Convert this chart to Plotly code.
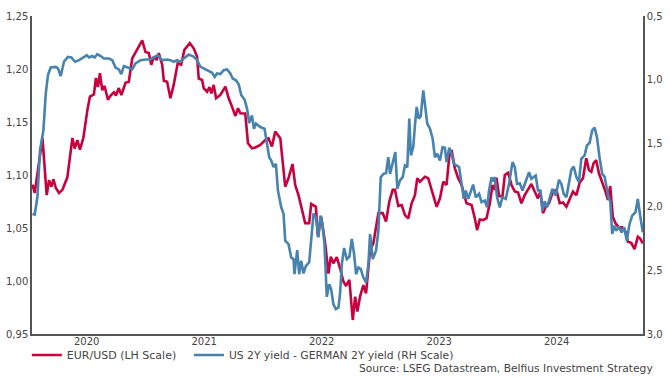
import plotly.graph_objects as go

# decimal-year dates and values
eur_t = [2020.039, 2020.058, 2020.124, 2020.160, 2020.180, 2020.200, 2020.217, 2020.237, 2020.265, 2020.294,
         2020.336, 2020.379, 2020.398, 2020.421, 2020.443, 2020.472, 2020.506, 2020.528, 2020.562, 2020.579,
         2020.596, 2020.613, 2020.633, 2020.653, 2020.681, 2020.704, 2020.732, 2020.749, 2020.774, 2020.795,
         2020.831, 2020.859, 2020.888, 2020.931, 2020.973, 2021.001, 2021.029, 2021.050, 2021.072, 2021.095,
         2021.114, 2021.143, 2021.157, 2021.185, 2021.213, 2021.241, 2021.275, 2021.304, 2021.332, 2021.378,
         2021.411, 2021.440, 2021.454, 2021.483, 2021.496, 2021.525, 2021.545, 2021.562, 2021.581, 2021.602,
         2021.638, 2021.681, 2021.709, 2021.737, 2021.766, 2021.788, 2021.808, 2021.850, 2021.873, 2021.907,
         2021.935, 2021.978, 2022.020, 2022.048, 2022.077, 2022.105, 2022.148, 2022.190, 2022.218, 2022.252,
         2022.275, 2022.303, 2022.332, 2022.360, 2022.394, 2022.411, 2022.451, 2022.468, 2022.496, 2022.530,
         2022.558, 2022.578, 2022.600, 2022.629, 2022.657, 2022.685, 2022.708, 2022.736, 2022.765, 2022.785,
         2022.804, 2022.827, 2022.855, 2022.878, 2022.912, 2022.940, 2022.983, 2023.020, 2023.048, 2023.076,
         2023.105, 2023.124, 2023.152, 2023.181, 2023.209, 2023.237, 2023.266, 2023.294, 2023.314, 2023.337,
         2023.379, 2023.407, 2023.436, 2023.479, 2023.507, 2023.535, 2023.563, 2023.586, 2023.606, 2023.634,
         2023.662, 2023.691, 2023.733, 2023.776, 2023.804, 2023.823, 2023.846, 2023.874, 2023.903, 2023.931,
         2023.954, 2023.974, 2023.988, 2024.010, 2024.039, 2024.059, 2024.087, 2024.116, 2024.144, 2024.172,
         2024.200, 2024.228, 2024.257, 2024.285, 2024.313, 2024.341, 2024.362, 2024.384, 2024.407, 2024.435,
         2024.469, 2024.498, 2024.526, 2024.554, 2024.583, 2024.611, 2024.639, 2024.668, 2024.696, 2024.724,
         2024.752, 2024.775, 2024.795, 2024.814, 2024.837, 2024.860, 2024.888, 2024.916, 2024.936, 2024.956,
         2024.978, 2025.001, 2025.029, 2025.058, 2025.086, 2025.106, 2025.135, 2025.163, 2025.191, 2025.211,
         2025.233]
eur_usd = [1.091, 1.083, 1.135, 1.081, 1.095, 1.089, 1.096, 1.088, 1.083, 1.086,
           1.098, 1.135, 1.125, 1.133, 1.124, 1.135, 1.161, 1.174, 1.176, 1.1915,
           1.183, 1.196, 1.180, 1.184, 1.171, 1.175, 1.178, 1.175, 1.182, 1.1755,
           1.187, 1.188, 1.210, 1.218, 1.227, 1.216, 1.215, 1.204, 1.2116, 1.2085,
           1.215, 1.204, 1.189, 1.188, 1.1724, 1.185, 1.2054, 1.204, 1.218, 1.2245,
           1.2195, 1.2116, 1.191, 1.1896, 1.182, 1.1786, 1.183, 1.177, 1.185, 1.1724,
           1.1755, 1.1834, 1.1724, 1.1645, 1.1557, 1.163, 1.1582, 1.158, 1.130, 1.1252,
           1.126, 1.1283, 1.133, 1.1347, 1.1268, 1.1409, 1.1347, 1.089, 1.097, 1.1104,
           1.0906, 1.081, 1.067, 1.0545, 1.0545, 1.0727, 1.070, 1.0418, 1.0607, 1.0356,
           1.007, 1.023, 1.0167, 1.0225, 1.012, 0.9995, 0.9953, 1.001, 0.9632, 0.9853,
           0.9711, 0.9853, 0.9962, 0.9884, 1.0292, 1.0356, 1.064, 1.064, 1.056, 1.075,
           1.086, 1.086, 1.0708, 1.0717, 1.0622, 1.059, 1.0733, 1.081, 1.097, 1.0937,
           1.0984, 1.097, 1.086, 1.070, 1.078, 1.0937, 1.0906, 1.1173, 1.1236, 1.1063,
           1.097, 1.0906, 1.0733, 1.0717, 1.059, 1.048, 1.058, 1.0575, 1.059, 1.073,
           1.0906, 1.086, 1.0975, 1.080, 1.080, 1.100, 1.102, 1.0906, 1.0844, 1.0834,
           1.0733, 1.081, 1.0865, 1.0915, 1.0844, 1.078, 1.0844, 1.064, 1.070, 1.0733,
           1.0844, 1.086, 1.0733, 1.074, 1.070, 1.0764, 1.0844, 1.081, 1.0927, 1.097,
           1.1158, 1.1047, 1.103, 1.111, 1.114, 1.1016, 1.0937, 1.0844, 1.0764, 1.0896,
           1.0607, 1.0545, 1.0506, 1.0506, 1.0466, 1.037, 1.036, 1.030, 1.0418, 1.040,
           1.0356]

spread_t = [2020.039, 2020.058, 2020.081, 2020.103, 2020.132, 2020.152, 2020.171, 2020.194, 2020.237, 2020.256,
            2020.279, 2020.307, 2020.341, 2020.370, 2020.401, 2020.435, 2020.472, 2020.500, 2020.520, 2020.548,
            2020.568, 2020.591, 2020.619, 2020.647, 2020.689, 2020.718, 2020.746, 2020.774, 2020.795, 2020.817,
            2020.851, 2020.888, 2020.916, 2020.959, 2021.001, 2021.044, 2021.078, 2021.106, 2021.134, 2021.157,
            2021.185, 2021.213, 2021.241, 2021.270, 2021.298, 2021.326, 2021.369, 2021.403, 2021.440, 2021.468,
            2021.496, 2021.525, 2021.545, 2021.568, 2021.590, 2021.610, 2021.638, 2021.666, 2021.695, 2021.723,
            2021.743, 2021.771, 2021.794, 2021.816, 2021.844, 2021.865, 2021.884, 2021.907, 2021.924, 2021.941,
            2021.978, 2022.014, 2022.035, 2022.054, 2022.071, 2022.091, 2022.111, 2022.128, 2022.156, 2022.176,
            2022.190, 2022.218, 2022.241, 2022.261, 2022.269, 2022.292, 2022.309, 2022.326, 2022.346, 2022.366,
            2022.394, 2022.411, 2022.431, 2022.451, 2022.473, 2022.490, 2022.507, 2022.524, 2022.544, 2022.564,
            2022.581, 2022.600, 2022.621, 2022.643, 2022.657, 2022.672, 2022.691, 2022.714, 2022.736, 2022.757,
            2022.776, 2022.793, 2022.813, 2022.833, 2022.855, 2022.878, 2022.898, 2022.912, 2022.935, 2022.963,
            2022.983, 2023.003, 2023.025, 2023.048, 2023.067, 2023.082, 2023.105, 2023.127, 2023.144, 2023.167,
            2023.190, 2023.209, 2023.229, 2023.246, 2023.260, 2023.280, 2023.294, 2023.309, 2023.326, 2023.343,
            2023.365, 2023.382, 2023.399, 2023.422, 2023.445, 2023.464, 2023.484, 2023.507, 2023.529, 2023.549,
            2023.563, 2023.586, 2023.606, 2023.625, 2023.648, 2023.670, 2023.691, 2023.710, 2023.727, 2023.747,
            2023.767, 2023.789, 2023.812, 2023.840, 2023.861, 2023.889, 2023.908, 2023.925, 2023.946, 2023.954,
            2023.974, 2023.993, 2024.016, 2024.039, 2024.067, 2024.095, 2024.124, 2024.144, 2024.163, 2024.186,
            2024.209, 2024.237, 2024.265, 2024.285, 2024.305, 2024.322, 2024.341, 2024.362, 2024.379, 2024.398,
            2024.418, 2024.441, 2024.464, 2024.492, 2024.520, 2024.540, 2024.560, 2024.583, 2024.605, 2024.625,
            2024.645, 2024.668, 2024.690, 2024.710, 2024.738, 2024.758, 2024.780, 2024.803, 2024.823, 2024.843,
            2024.865, 2024.888, 2024.908, 2024.927, 2024.944, 2024.956, 2024.973, 2024.990, 2025.007, 2025.029,
            2025.052, 2025.075, 2025.097, 2025.120, 2025.143, 2025.171, 2025.191, 2025.211, 2025.233]
spread = [2.056, 2.061, 1.925, 1.557, 1.399, 1.110, 0.965, 0.905, 0.900, 0.912,
          0.973, 0.860, 0.821, 0.826, 0.860, 0.847, 0.826, 0.808, 0.826, 0.815,
          0.826, 0.800, 0.815, 0.834, 0.834, 0.847, 0.905, 0.920, 0.957, 0.894,
          0.905, 0.920, 0.873, 0.847, 0.842, 0.842, 0.821, 0.808, 0.842, 0.847,
          0.842, 0.847, 0.860, 0.847, 0.860, 0.834, 0.805, 0.815, 0.847, 0.900,
          0.912, 0.926, 0.939, 0.947, 0.979, 0.952, 0.957, 0.926, 0.920, 0.952,
          0.991, 1.005, 1.036, 1.123, 1.157, 1.228, 1.341, 1.281, 1.386, 1.346,
          1.373, 1.386, 1.504, 1.610, 1.636, 1.688, 1.662, 1.872, 2.004, 2.056,
          2.267, 2.293, 2.398, 2.411, 2.530, 2.340, 2.530, 2.424, 2.524, 2.464,
          2.438, 2.240, 2.051, 2.083, 2.240, 2.069, 2.135, 2.293, 2.708, 2.608,
          2.648, 2.766, 2.805, 2.792, 2.680, 2.450, 2.324, 2.411, 2.393, 2.253,
          2.371, 2.530, 2.477, 2.490, 2.556, 2.595, 2.450, 2.214, 2.411, 2.345,
          2.188, 1.767, 1.741, 1.736, 1.610, 1.741, 1.649, 1.570, 1.859, 1.793,
          1.767, 1.675, 1.688, 1.307, 1.596, 1.531, 1.360, 1.215, 1.307, 1.289,
          1.084, 1.215, 1.346, 1.386, 1.465, 1.610, 1.583, 1.636, 1.531, 1.536,
          1.649, 1.536, 1.583, 1.662, 1.675, 1.688, 1.820, 1.938, 1.872, 1.938,
          1.886, 1.825, 1.925, 1.898, 1.964, 1.951, 2.004, 1.872, 1.767, 1.800,
          1.767, 1.925, 2.004, 1.925, 1.938, 1.820, 1.649, 1.688, 1.820, 1.815,
          1.872, 1.793, 1.728, 1.780, 1.762, 1.754, 1.872, 1.872, 2.030, 1.957,
          2.004, 1.925, 1.859, 1.912, 1.788, 1.820, 1.898, 1.925, 1.820, 1.709,
          1.683, 1.767, 1.807, 1.622, 1.596, 1.517, 1.499, 1.399, 1.378, 1.452,
          1.610, 1.741, 1.762, 1.846, 1.938, 1.951, 2.214, 2.148, 2.188, 2.156,
          2.201, 2.161, 2.267, 2.135, 2.069, 2.043, 1.938, 2.069, 2.201]

year_pos = [2020.5, 2021.5, 2022.5, 2023.5, 2024.5]
year_labels = ["2020", "2021", "2022", "2023", "2024"]

RED = "#C8003E"
BLUE = "#4683AF"
AX = "#555555"
TXT = "#444444"
FONT = "DejaVu Sans"

fig = go.Figure()
fig.add_trace(go.Scatter(x=eur_t, y=eur_usd, mode="lines", name="EUR/USD (LH Scale)",
                         line=dict(color=RED, width=2.6), yaxis="y", legend="legend"))
fig.add_trace(go.Scatter(x=spread_t, y=spread, mode="lines",
                         name="US 2Y yield - GERMAN 2Y yield (RH Scale)",
                         line=dict(color=BLUE, width=2.6), yaxis="y2", legend="legend2"))

axis_common = dict(showgrid=False, zeroline=False, showline=True, linecolor=AX, linewidth=1.5,
                   ticks="", automargin=False, tickfont=dict(family=FONT, size=10, color=TXT))
legend_common = dict(orientation="h", xref="container", yref="container", xanchor="left",
                     y=1 - 355 / 377, yanchor="middle",
                     bgcolor="rgba(0,0,0,0)", itemwidth=30)

fig.update_layout(
    template="none",
    width=670, height=377,
    margin=dict(l=32, r=27, t=16, b=43, autoexpand=False),
    paper_bgcolor="white", plot_bgcolor="white",
    separators=", ",
    font=dict(family=FONT, size=10, color=TXT),
    xaxis=dict(range=[2020.035, 2025.235], tickvals=year_pos, ticktext=year_labels,
               ticklabelstandoff=-3, **axis_common),
    yaxis=dict(range=[0.95, 1.25], dtick=0.05, tick0=0.95, tickformat=".2f",
               ticklabelstandoff=0, **axis_common),
    yaxis2=dict(range=[3.0, 0.5], dtick=0.5, tick0=0.5, tickformat=".1f", overlaying="y", side="right",
                ticklabelstandoff=0, **axis_common),
    legend=dict(x=0.04, font=dict(family=FONT, size=11, color=TXT), **legend_common),
    legend2=dict(x=0.282, font=dict(family=FONT, size=10.75, color=TXT), **legend_common),
    showlegend=True,
    annotations=[dict(text="Source: LSEG Datastream, Belfius Investment Strategy",
                      xref="paper", yref="paper", x=(655 - 32) / 611, y=-0.11, xanchor="right",
                      yanchor="middle", showarrow=False,
                      font=dict(family=FONT, size=10.7, color=TXT))],
)

fig.write_html("out.html", config={"displayModeBar": False},
               post_script="document.body.style.margin='0';document.body.style.padding='0';")
